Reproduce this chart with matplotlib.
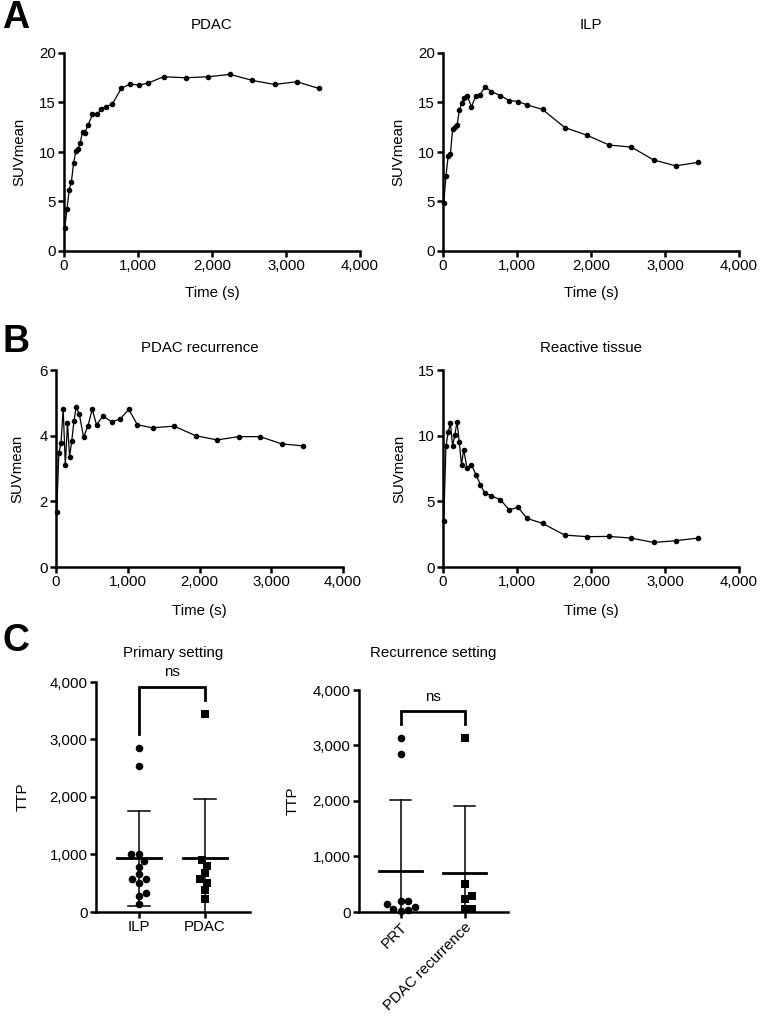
import numpy as np
import matplotlib
matplotlib.use("Agg")
import matplotlib.pyplot as plt
from matplotlib.ticker import FuncFormatter

plt.rcParams['font.family'] = ['Liberation Sans', 'DejaVu Sans']

# ---------------- data ----------------
time_s = [10, 40, 70, 100, 130, 160, 190, 220, 250, 280, 325, 385, 445, 505, 565,
          655, 775, 895, 1015, 1135, 1345, 1645, 1945, 2245, 2545, 2845, 3145, 3445]

pdac_suv = [2.3, 4.2, 6.2, 7.0, 8.9, 10.1, 10.3, 10.95, 12.06, 11.96, 12.7, 13.8, 13.8, 14.36,
            14.56, 14.86, 16.45, 16.86, 16.76, 16.96, 17.6, 17.5, 17.6, 17.84, 17.23, 16.82,
            17.1, 16.42]
ilp_suv = [4.83, 7.6, 9.56, 9.8, 12.3, 12.5, 12.7, 14.2, 14.9, 15.5, 15.7, 14.56, 15.7, 15.8,
           16.6, 16.1, 15.7, 15.2, 15.1, 14.76, 14.3, 12.47, 11.7, 10.7, 10.5, 9.2, 8.6, 8.95]
pdac_rec_suv = [1.69, 3.47, 3.79, 4.82, 3.10, 4.38, 3.36, 3.85, 4.44, 4.86, 4.65, 3.95, 4.30,
                4.80, 4.33, 4.60, 4.42, 4.51, 4.80, 4.33, 4.24, 4.29, 4.0, 3.87, 3.97, 3.97,
                3.75, 3.69]
reactive_suv = [3.47, 9.22, 10.26, 10.95, 9.22, 10.06, 11.07, 9.48, 7.80, 8.94, 7.52, 7.80,
                7.02, 6.28, 5.62, 5.42, 5.12, 4.36, 4.54, 3.70, 3.32, 2.43, 2.31, 2.33, 2.20,
                1.87, 2.00, 2.20]

primary_labels = ["ILP", "PDAC"]
ttp_ilp = [2846, 2545, 1009, 1009, 892, 788, 655, 568, 568, 510, 325, 278, 134]
ttp_pdac = [3443, 904, 800, 673, 568, 510, 383, 220]

recurrence_labels = ["PRT", "PDAC recurrence"]
ttp_prt = [3142, 2849, 192, 192, 138, 96, 48, 36, 18]
ttp_pdac_rec = [3142, 505, 294, 228, 48, 48]

# ---------------- figure ----------------
W, H = 760, 1021
FS = 10.8
fig = plt.figure(figsize=(W / 100, H / 100), dpi=100)


def add_ax(x0, x1, y0, y1):
    return fig.add_axes([x0 / W, 1 - y1 / H, (x1 - x0) / W, (y1 - y0) / H])


def ftext(px, py, s, **kw):
    kw.setdefault('ha', 'center')
    kw.setdefault('va', 'center')
    fig.text(px / W, 1 - py / H, s, **kw)


comma = FuncFormatter(lambda v, p: f"{int(round(v)):,}")


def style(ax):
    for s in ['top', 'right']:
        ax.spines[s].set_visible(False)
    for s in ['left', 'bottom']:
        ax.spines[s].set_linewidth(1.8)
    ax.tick_params(width=1.8, length=4, labelsize=FS, pad=2)


def line_panel(box, y, ymax, yticks, title, title_y, ylabel_x, xlabel_y):
    x0, x1, y0, y1 = box
    ax = add_ax(x0, x1, y0, y1)
    ax.plot(time_s, y, color='black', lw=0.9, marker='o', ms=3, clip_on=False)
    ax.set_xlim(0, 4000)
    ax.set_ylim(0, ymax)
    ax.set_xticks([0, 1000, 2000, 3000, 4000])
    ax.set_yticks(yticks)
    ax.xaxis.set_major_formatter(comma)
    style(ax)
    ftext((x0 + x1) / 2, title_y, title, fontsize=FS)
    ftext((x0 + x1) / 2, xlabel_y, "Time (s)", fontsize=FS)
    ftext(ylabel_x, (y0 + y1) / 2, "SUVmean", fontsize=FS, rotation=90)
    return ax


line_panel((64, 360, 53, 251), pdac_suv, 20, [0, 5, 10, 15, 20], "PDAC", 25, 19, 293)
line_panel((443, 739, 53, 251), ilp_suv, 20, [0, 5, 10, 15, 20], "ILP", 25, 398, 293)
line_panel((56, 343, 370, 567), pdac_rec_suv, 6, [0, 2, 4, 6], "PDAC recurrence", 348, 17, 611)
line_panel((443, 739, 370, 567), reactive_suv, 15, [0, 5, 10, 15], "Reactive tissue", 348, 399, 611)


def beeswarm(vals, px_per_x, px_per_y, diam):
    order = np.argsort(vals)
    placed = []
    offs = np.zeros(len(vals))
    cands = [0.0]
    for k in range(1, 60):
        cands += [k * 0.5, -k * 0.5]
    for i in order:
        yp = vals[i] * px_per_y
        for c in cands:
            ok = all((c - ox) ** 2 + (yp - oy) ** 2 >= diam ** 2 for ox, oy in placed)
            if ok:
                placed.append((c, yp))
                offs[i] = c / px_per_x
                break
    return offs


def scatter_panel(box, groups, labels, markers, title, ylabel_x, bracket, ns_y, rotate):
    x0, x1, y0, y1 = box
    ax = add_ax(x0, x1, y0, y1)
    xlo, xhi = -0.65, 1.68
    ax.set_xlim(xlo, xhi)
    ax.set_ylim(0, 4000)
    px_per_x = (x1 - x0) / (xhi - xlo)
    px_per_y = (y1 - y0) / 4000
    for gi, (vals, mk) in enumerate(zip(groups, markers)):
        v = np.array(vals, dtype=float)
        offs = beeswarm(v, px_per_x, px_per_y, 7.5)
        ax.scatter(gi + offs, v, marker=mk, s=30 if mk == 'o' else 28, color='black',
                   zorder=3, clip_on=False, linewidths=0)
        m = v.mean()
        sd = v.std(ddof=1)
        ax.plot([gi - 0.33, gi + 0.33], [m, m], color='black', lw=2, zorder=4)
        ax.plot([gi, gi], [m - sd, m + sd], color='black', lw=1.1, zorder=2)
        ax.plot([gi - 0.17, gi + 0.17], [m + sd, m + sd], color='black', lw=1.1, zorder=2)
        ax.plot([gi - 0.17, gi + 0.17], [m - sd, m - sd], color='black', lw=1.1, zorder=2)
    ax.set_xticks([0, 1])
    if rotate:
        ax.set_xticklabels(labels, rotation=45, ha='right', rotation_mode='anchor')
    else:
        ax.set_xticklabels(labels)
    ax.set_yticks([0, 1000, 2000, 3000, 4000])
    ax.yaxis.set_major_formatter(comma)
    style(ax)
    lh, top, rh = bracket
    ax.plot([0, 0, 1, 1], [lh, top, top, rh], color='black', lw=2, clip_on=False,
            solid_joinstyle='miter')
    ax.text(0.5, ns_y, "ns", ha='center', va='center', fontsize=FS)
    ftext((x0 + x1) / 2, 653, title, fontsize=FS)
    ftext(ylabel_x, (y0 + y1) / 2, "TTP", fontsize=FS, rotation=90)
    return ax


scatter_panel((96, 250, 682, 912), [ttp_ilp, ttp_pdac], primary_labels, ['o', 's'],
              "Primary setting", 23, (3096, 3913, 3693), 4180, False)
scatter_panel((359, 508, 690, 912), [ttp_prt, ttp_pdac_rec], recurrence_labels, ['o', 's'],
              "Recurrence setting", 293, (3388, 3622, 3388), 3880, True)

# panel letters
ftext(16, 18, "A", fontsize=27, fontweight='bold')
ftext(16, 342, "B", fontsize=27, fontweight='bold')
ftext(16, 641, "C", fontsize=27, fontweight='bold')

fig.savefig("out.png", dpi=100)
